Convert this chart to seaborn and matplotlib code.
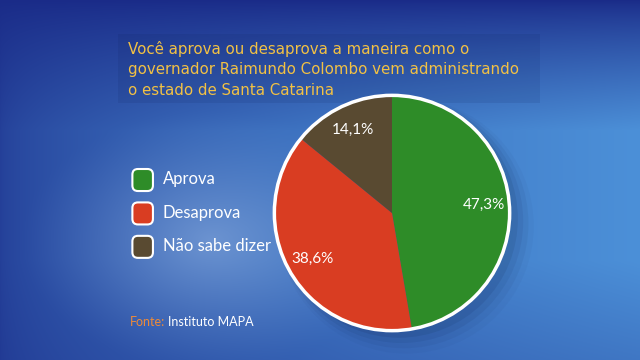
import numpy as np
import matplotlib
matplotlib.use("Agg")
import matplotlib.pyplot as plt
import seaborn as sns
from matplotlib.patches import Circle, FancyBboxPatch, Rectangle
from matplotlib.legend_handler import HandlerPatch
import matplotlib.patches as mpatches

# dados da pesquisa
categorias = ["Aprova", "Desaprova", "Não sabe dizer"]
valores = [47.3, 38.6, 14.1]
cores = ["#2e8c28", "#d93d22", "#594a31"]

titulo = ("Você aprova ou desaprova a maneira como o\n"
          "governador Raimundo Colombo vem administrando\n"
          "o estado de Santa Catarina")
fonte_rotulo = "Fonte:"
fonte_texto = "Instituto MAPA"

sns.set_style("white")
plt.rcParams['font.family'] = ['Lato', 'DejaVu Sans']

fig = plt.figure(figsize=(6.4, 3.6), dpi=100)

# fundo em degradê azul
bg = fig.add_axes([0, 0, 1, 1])
h, w = 360, 640
yy, xx = np.mgrid[0:h, 0:w].astype(float)
base = np.array([26, 43, 136]) / 255
claro = np.array([76, 144, 216]) / 255
nucleo = np.array([150, 182, 228]) / 255
ty = np.clip(yy / 130.0, 0, 1) ** 0.8
tx = 0.2 + 0.8 * (xx / w) ** 0.6
escuro = 1 - 0.25 * np.clip((yy - 260) / 100.0, 0, 1)
f1 = (ty * tx * escuro)[..., None]
img = base + (claro - base) * f1
d = np.sqrt(((xx - 210) / 190.0) ** 2 + ((yy - 240) / 130.0) ** 2)
f2 = (0.55 * np.clip(1 - d, 0, 1) ** 1.3)[..., None]
img = img + (nucleo - img) * f2
bg.imshow(np.clip(img, 0, 1), extent=[0, 1, 0, 1], aspect='auto', origin='upper')
bg.add_patch(Rectangle((0.184, 0.715), 0.66, 0.19, color='#0a1a50', alpha=0.10, lw=0))
bg.set_xlim(0, 1)
bg.set_ylim(0, 1)
bg.axis('off')

# pizza
ax = fig.add_axes([272 / 640, 27 / 360, 240 / 640, 240 / 360])
for k, a in enumerate([0.09, 0.07, 0.05, 0.03]):
    ax.add_patch(Circle((0.06 + 0.02 * k, -0.05 - 0.02 * k), 1.01 + 0.025 * k,
                        color='#0a1840', alpha=a, lw=0, zorder=0, clip_on=False))
wedges, texts, autotexts = ax.pie(
    valores, colors=cores, startangle=90, counterclock=False,
    autopct=lambda p: f"{p:.1f}%".replace(".", ","), pctdistance=0.78,
    wedgeprops=dict(linewidth=0),
    textprops=dict(color='white', fontsize=11))
for wdg in wedges:
    wdg.set_zorder(2)
for at in autotexts:
    at.set_zorder(4)
ax.add_patch(Circle((0, 0), 1.0, fill=False, ec='white', lw=2.5, zorder=3))
ax.set_xlim(-1.02, 1.02)
ax.set_ylim(-1.02, 1.02)
ax.set_aspect('equal')
ax.axis('off')


class HandlerRounded(HandlerPatch):
    def create_artists(self, legend, orig_handle, xdescent, ydescent,
                       width, height, fontsize, trans):
        p = FancyBboxPatch((-xdescent + 1, -ydescent - 2), width - 2, height + 2,
                           boxstyle="round,pad=0,rounding_size=4",
                           fc=orig_handle.get_facecolor(), ec='white', lw=1.5,
                           transform=trans)
        return [p]


handles = [mpatches.Patch(facecolor=c) for c in cores]
leg = fig.legend(handles, categorias, loc='upper left',
                 bbox_to_anchor=(116 / 640, 1 - 154 / 360),
                 frameon=False, fontsize=12, handlelength=1.4, handleheight=1.4,
                 labelspacing=0.85, handletextpad=0.5,
                 handler_map={mpatches.Patch: HandlerRounded()})
for txt in leg.get_texts():
    txt.set_color('white')

# título
fig.text(128 / 640, 1 - 41 / 360, titulo, color='#f2c144', fontsize=10.8,
         family=['DejaVu Sans'], va='top', ha='left', linespacing=1.45)

# fonte
ft = fig.text(130 / 640, 1 - 322 / 360, fonte_rotulo, color='#ec8a3a',
              fontsize=9, va='center', ha='left')
fig.canvas.draw()
bb = ft.get_window_extent()
fig.text((bb.x1 + 3) / 640, 1 - 322 / 360, fonte_texto, color='white',
         fontsize=9, va='center', ha='left')

fig.savefig("out.png", dpi=100)
